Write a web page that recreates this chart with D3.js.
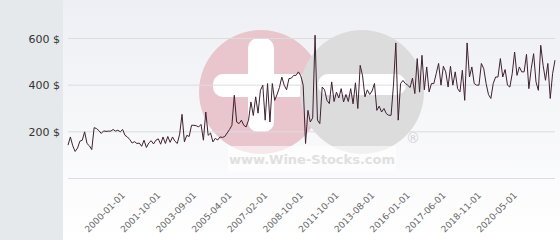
<!DOCTYPE html>
<html>
<head>
<meta charset="utf-8">
<script src="https://cdn.jsdelivr.net/npm/d3@7"></script>
<style>
  body { margin: 0; background: #fff; }
  svg { display: block; font-family: "DejaVu Sans", Verdana, sans-serif; }
</style>
</head>
<body>
<div id="chart"></div>
<script>
// price per bottle, one value per auction point
const prices = [
  143, 178, 140, 116, 130, 160, 164, 200, 150, 140,
  124, 218, 214, 205, 193, 204, 202, 203, 203, 210,
  203, 207, 200, 210, 185, 178, 167, 152, 158, 150,
  152, 138, 164, 133, 152, 162, 148, 164, 170, 147,
  178, 150, 180, 155, 178, 160, 150, 190, 275, 157,
  185, 180, 228, 228, 226, 221, 232, 164, 285, 185,
  195, 157, 172, 165, 178, 176, 180, 195, 210, 228,
  357, 242, 235, 250, 228, 221, 250, 328, 270, 350,
  280, 378, 400, 250, 407, 242, 407, 335, 360, 390,
  435, 400, 380, 428, 430, 442, 442, 457, 440, 400,
  150,
  292, 242, 260, 614, 250, 235, 392, 380, 335, 321,
  414, 330, 370, 345, 385, 328, 360, 330, 385, 320,
  410, 300, 485, 440, 350, 380, 360, 375, 407, 292,
  310, 285, 300, 278, 271, 271, 400, 581, 250, 407,
  420, 407, 400, 390, 430, 364, 514, 370, 528, 380,
  478,
  371, 407, 407, 450, 493, 400, 481, 457, 392, 481,
  400, 457, 385, 371, 464, 335, 581, 435, 478, 407,
  400, 400, 493, 471, 407, 360, 343, 407, 435, 435,
  514, 435, 467, 400, 392, 450, 542, 442, 478, 457,
  457, 532, 385, 471, 535, 414, 378, 571, 485, 421,
  493, 343, 450, 507
];

// dates shown on the x axis and the point each one belongs to
const tickLabels = ["2000-01-01", "2001-10-01", "2003-09-01", "2005-04-01", "2007-02-01", "2008-10-01",
                    "2011-10-01", "2013-08-01", "2016-01-01", "2017-06-01", "2018-11-01", "2020-05-01"];
const tickIndex = [24, 39, 54, 69, 84, 99, 114, 129, 144, 159, 174, 189];

const yTicks = [200, 400, 600];

const width = 560, height = 240;
const panelW = 63;

const svg = d3.select("#chart")
    .append("svg")
    .attr("width", width)
    .attr("height", height);

// background: grey side panel + light gradient plot area
const grad = svg.append("defs").append("linearGradient")
    .attr("id", "bg").attr("x1", 0).attr("y1", 0).attr("x2", 0).attr("y2", 1);
grad.append("stop").attr("offset", "0%").attr("stop-color", "#eeeff4");
grad.append("stop").attr("offset", "100%").attr("stop-color", "#ffffff");

svg.append("rect")
    .attr("width", panelW).attr("height", height)
    .attr("fill", "#e5e9ec");
svg.append("rect")
    .attr("x", panelW).attr("width", width - panelW).attr("height", height)
    .attr("fill", "url(#bg)");

// watermark logo
const wm = svg.append("g");
wm.append("circle").attr("cx", 261).attr("cy", 92).attr("r", 62).attr("fill", "#e9c6ce");
wm.append("rect").attr("x", 248).attr("y", 38).attr("width", 26).attr("height", 94).attr("rx", 10).attr("fill", "#fff");
wm.append("rect").attr("x", 213).attr("y", 74).attr("width", 95).attr("height", 23).attr("rx", 10).attr("fill", "#fff");
wm.append("circle").attr("cx", 362).attr("cy", 92).attr("r", 62).attr("fill", "#dcdcdc");
wm.append("rect").attr("x", 318).attr("y", 74).attr("width", 88).attr("height", 21).attr("rx", 10).attr("fill", "#fff");
wm.append("rect").attr("x", 228).attr("y", 146).attr("width", 168).attr("height", 26).attr("fill", "#fff").attr("opacity", 0.6);
wm.append("text").attr("x", 312).attr("y", 164)
    .attr("text-anchor", "middle").attr("font-size", 13).attr("font-weight", "bold")
    .attr("fill", "#e0e0e0").text("www.Wine-Stocks.com");
wm.append("text").attr("x", 413).attr("y", 143)
    .attr("text-anchor", "middle").attr("font-size", 14)
    .attr("fill", "#d4d4d4").text("®");

// scales
const x = d3.scaleLinear()
    .domain([0, prices.length - 1])
    .range([68, 555]);
const y = d3.scaleLinear()
    .domain([0, 600])
    .range([178.5, 38.5]);

// grid lines
svg.append("g")
    .selectAll("line")
    .data([0].concat(yTicks))
    .join("line")
    .attr("x1", 68).attr("x2", 555)
    .attr("y1", d => y(d)).attr("y2", d => y(d))
    .attr("stroke", "#dcdcdc");

// Y axis
const yAxis = svg.append("g")
    .attr("transform", "translate(60,0)")
    .call(d3.axisLeft(y).tickValues(yTicks).tickSize(0).tickPadding(0).tickFormat(d => d + " $"));
yAxis.select(".domain").remove();
yAxis.selectAll("text")
    .style("font-family", "DejaVu Sans, Verdana, sans-serif")
    .style("font-size", "11px")
    .attr("fill", "#333");

// X axis
const xAxis = svg.append("g")
    .attr("transform", "translate(0,196)")
    .call(d3.axisBottom(x).tickValues(tickIndex).tickSize(0).tickFormat((d, i) => tickLabels[i]));
xAxis.select(".domain").remove();
xAxis.selectAll("text")
    .attr("x", 0).attr("y", 0).attr("dy", 0)
    .attr("transform", "rotate(-45)")
    .style("text-anchor", "end")
    .style("font-family", "DejaVu Sans, Verdana, sans-serif")
    .style("font-size", "9px")
    .attr("fill", "#666");

// price line
svg.append("path")
    .datum(prices)
    .attr("fill", "none")
    .attr("stroke", "#3f2130")
    .attr("stroke-width", 1)
    .attr("d", d3.line().x((d, i) => x(i)).y(d => y(d)));
</script>
</body>
</html>
